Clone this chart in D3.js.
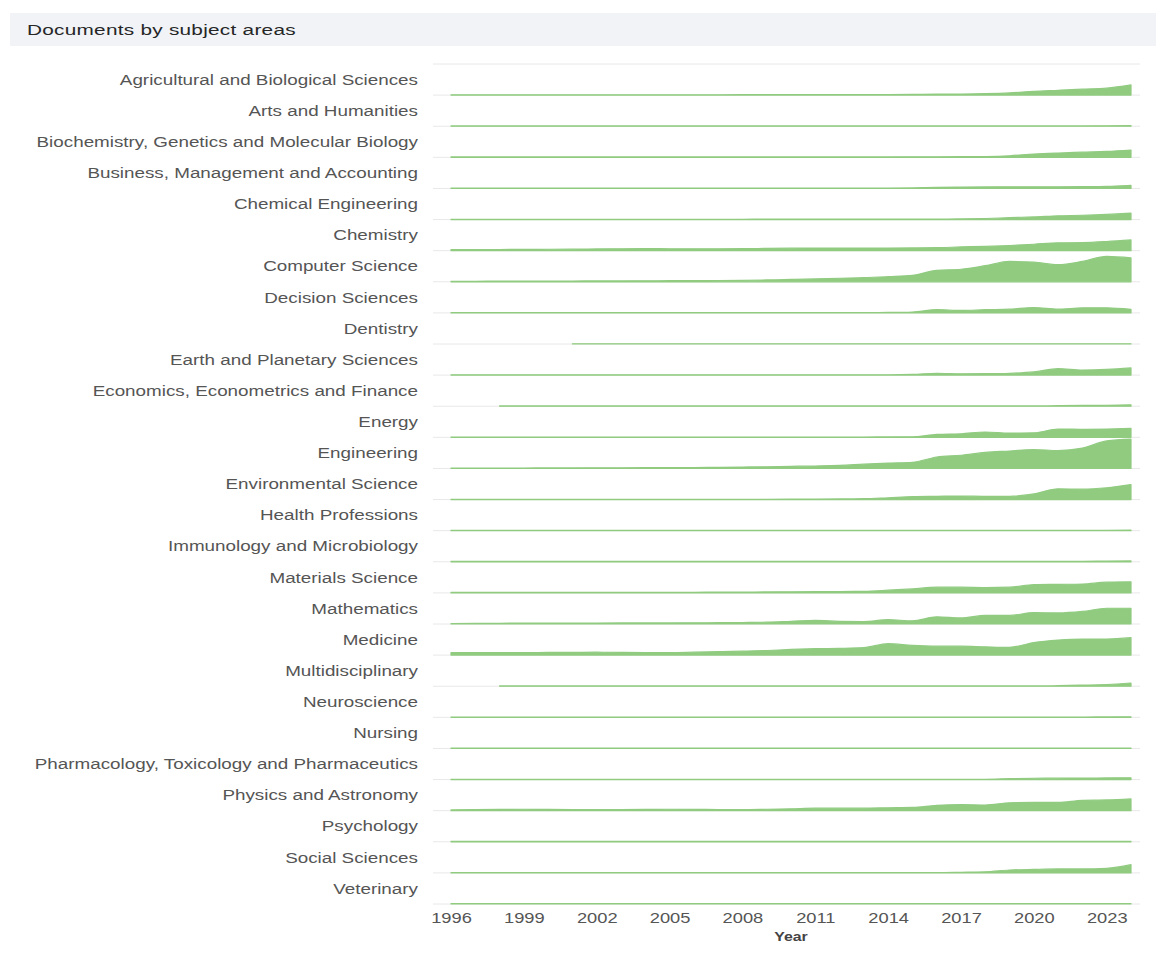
<!DOCTYPE html>
<html>
<head>
<meta charset="utf-8">
<script src="https://cdn.jsdelivr.net/npm/d3@7"></script>
<style>
  body { margin: 0; background: #fff; }
  text { font-family: "Liberation Sans", Arial, Helvetica, sans-serif; }
</style>
</head>
<body>
<div id="mainDiv"></div>
<script>
'use strict';

// years on the x axis
var years = d3.range(1996, 2025);
var tickYears = [1996, 1999, 2002, 2005, 2008, 2011, 2014, 2017, 2020, 2023];

var subjects = [
  'Agricultural and Biological Sciences',
  'Arts and Humanities',
  'Biochemistry, Genetics and Molecular Biology',
  'Business, Management and Accounting',
  'Chemical Engineering',
  'Chemistry',
  'Computer Science',
  'Decision Sciences',
  'Dentistry',
  'Earth and Planetary Sciences',
  'Economics, Econometrics and Finance',
  'Energy',
  'Engineering',
  'Environmental Science',
  'Health Professions',
  'Immunology and Microbiology',
  'Materials Science',
  'Mathematics',
  'Medicine',
  'Multidisciplinary',
  'Neuroscience',
  'Nursing',
  'Pharmacology, Toxicology and Pharmaceutics',
  'Physics and Astronomy',
  'Psychology',
  'Social Sciences',
  'Veterinary'
];

// documents per year, 1996..2024 (null = no data yet), same order as subjects
var docCounts = [
  [3,3,3,3,3,3,3,3,3,3,3,3,4,4,4,4,4,4,5,7,9,10,13,20,35,45,55,65,95],
  [3,3,3,3,3,3,3,3,3,3,3,3,3,3,3,3,3,3,3,3,3,3,3,3,3,3,3,4,6],
  [4,4,4,4,4,4,4,4,4,4,4,4,4,4,4,4,4,4,4,5,5,6,8,15,30,40,48,55,68],
  [3,3,3,3,3,3,3,3,3,3,3,3,3,3,3,3,3,3,3,5,10,12,14,15,16,15,17,20,30],
  [3,3,3,3,3,3,3,3,3,3,3,3,3,4,4,4,4,4,4,4,4,6,10,18,25,35,40,48,60],
  [10,10,11,12,13,14,16,18,20,18,17,18,19,21,23,25,24,24,25,26,28,35,40,48,60,73,75,85,100],
  [5,5,6,6,7,7,8,8,9,10,11,12,14,17,22,27,33,38,48,60,107,117,150,190,183,160,190,237,223],
  [3,3,3,3,3,3,3,3,3,3,3,3,3,3,3,3,3,3,4,8,30,23,30,35,50,35,47,47,33],
  [null,null,null,null,null,2,2,2,2,2,2,2,2,2,2,2,2,2,2,2,2,2,2,2,2,2,2,2,2],
  [3,3,3,3,3,3,3,3,3,3,3,3,3,3,3,3,3,3,3,6,17,12,13,17,30,60,47,53,67],
  [null,null,3,3,3,3,3,3,3,3,3,3,3,3,3,3,3,3,3,3,3,3,3,3,3,5,7,9,13],
  [3,3,3,3,3,3,3,3,3,3,3,3,3,3,3,3,3,3,4,5,27,33,50,40,42,77,75,77,83],
  [3,3,4,4,5,5,6,6,7,7,8,10,13,16,20,23,28,40,50,57,107,123,150,163,177,167,190,257,273],
  [3,3,3,3,3,3,3,3,3,3,3,3,3,3,4,5,6,8,17,27,30,33,30,30,53,100,97,110,140],
  [3,3,3,3,3,3,3,3,3,3,3,3,3,3,3,3,3,3,3,3,3,3,3,3,3,3,3,4,6],
  [3,3,3,3,3,3,3,3,3,3,3,3,3,3,3,3,3,3,3,3,3,3,3,3,3,3,5,6,8],
  [4,4,4,5,5,5,5,6,6,6,6,7,8,9,10,11,13,15,25,37,53,53,50,53,77,80,83,100,103],
  [3,5,7,8,8,9,9,10,10,10,11,12,14,17,25,33,25,23,40,30,67,57,80,80,107,103,117,147,147],
  [23,23,23,23,25,26,27,25,24,23,27,32,37,43,53,60,63,70,107,90,83,83,77,73,117,140,150,150,163],
  [null,null,3,3,3,3,3,3,3,3,3,3,3,3,3,3,3,3,3,3,3,3,3,3,3,5,10,15,30],
  [3,3,3,3,3,3,3,3,3,3,3,3,3,3,3,3,3,3,3,3,3,3,3,3,3,3,3,4,5],
  [3,3,3,3,3,3,3,3,3,3,3,3,3,3,3,3,3,3,3,3,3,3,3,3,3,3,3,3,3],
  [3,3,3,3,3,3,3,3,3,3,3,3,3,3,3,3,3,3,3,3,3,3,3,8,12,13,14,15,17],
  [7,10,12,13,12,11,10,11,12,13,12,11,10,13,17,23,23,23,27,30,50,57,53,73,77,77,97,100,110],
  [3,3,3,3,3,3,3,3,3,3,3,3,3,3,3,3,3,3,3,3,3,3,3,3,3,3,3,3,3],
  [3,3,3,3,3,3,3,3,3,3,3,3,3,3,3,3,3,3,3,3,3,6,10,27,33,37,37,43,77],
  [3,3,3,3,3,3,3,3,3,3,3,3,3,3,3,3,3,3,3,3,3,3,3,3,3,3,3,3,3]
];

var chart = {};

chart.width = 1156;
chart.height = 957;

chart.gridLeft = 433;
chart.gridRight = 1140;
chart.top = 64;
chart.bottom = 904;

// the source screenshot is a bit stretched sideways, so is the text here
chart.textStretch = 1.255;

chart.xScale = d3.scaleLinear().domain([1996, 2024]).range([451, 1131]);
chart.bandScale = d3.scaleBand().domain(subjects).range([chart.top, chart.bottom]);
chart.yScale = d3.scaleLinear()
    .domain([0, d3.max(docCounts, function(s) { return d3.max(s); })])
    .range([0, chart.bandScale.bandwidth() * 0.94]);

chart.green = '#90cb80';

chart.start = function() {

    var svg = d3.select('#mainDiv')
                .append('svg')
                .attr('width', chart.width)
                .attr('height', chart.height);

    // title bar
    svg.append('rect')
        .attr('x', 10).attr('y', 13)
        .attr('width', chart.width - 10).attr('height', 33)
        .attr('fill', '#f1f3f6');

    svg.append('text')
        .attr('transform', 'translate(27,35) scale(1.34,1)')
        .attr('fill', '#262626')
        .attr('font-size', 15.5)
        .style('letter-spacing', '0.2px')
        .text('Documents by subject areas');

    // horizontal grid lines: top plus every row baseline
    var gridYs = [chart.top].concat(subjects.map(function(s) {
        return chart.bandScale(s) + chart.bandScale.bandwidth();
    }));

    svg.append('g').selectAll('line')
        .data(gridYs)
        .enter().append('line')
        .attr('x1', chart.gridLeft).attr('x2', chart.gridRight)
        .attr('y1', function(d) { return d; })
        .attr('y2', function(d) { return d; })
        .attr('stroke', '#e8e8e8')
        .attr('stroke-width', 1);

    // one small area per subject
    var rows = svg.append('g').selectAll('g')
        .data(subjects)
        .enter().append('g')
        .attr('transform', function(d) {
            return 'translate(0,' + (chart.bandScale(d) + chart.bandScale.bandwidth()) + ')';
        });

    rows.append('path')
        .attr('d', function(d, i) {
            var pts = years.map(function(y, j) { return {year: y, value: docCounts[i][j]}; });
            var area = d3.area()
                .defined(function(p) { return p.value !== null; })
                .x(function(p) { return chart.xScale(p.year); })
                .y0(0)
                .y1(function(p) { return -chart.yScale(p.value); })
                .curve(d3.curveMonotoneX);
            return area(pts);
        })
        .attr('fill', chart.green)
        .attr('stroke', chart.green)
        .attr('stroke-width', 1.2)
        .attr('stroke-linejoin', 'round');

    rows.append('text')
        .attr('transform', 'translate(418,' + (-chart.bandScale.bandwidth() / 2) + ') scale(' + chart.textStretch + ',1)')
        .attr('dy', '0.35em')
        .attr('text-anchor', 'end')
        .attr('fill', '#555')
        .attr('font-size', 15)
        .text(function(d) { return d; });

    // x axis, labels only
    var xAxis = d3.axisBottom(chart.xScale)
        .tickValues(tickYears)
        .tickFormat(d3.format('d'))
        .tickSize(0)
        .tickPadding(8);

    var axisG = svg.append('g')
        .attr('transform', 'translate(0,' + chart.bottom + ')')
        .call(xAxis);

    axisG.select('.domain').remove();
    axisG.selectAll('text')
        .attr('transform', 'scale(1.22,1)')
        .attr('fill', '#555')
        .attr('font-size', 15)
        .attr('font-family', '"Liberation Sans", Arial, sans-serif');

    svg.append('text')
        .attr('transform', 'translate(' + ((chart.xScale(1996) + chart.xScale(2024)) / 2) + ',941) scale(1.22,1)')
        .attr('text-anchor', 'middle')
        .attr('fill', '#444')
        .attr('font-size', 13)
        .attr('font-weight', 'bold')
        .text('Year');
};

window.onload = chart.start;
</script>
</body>
</html>
